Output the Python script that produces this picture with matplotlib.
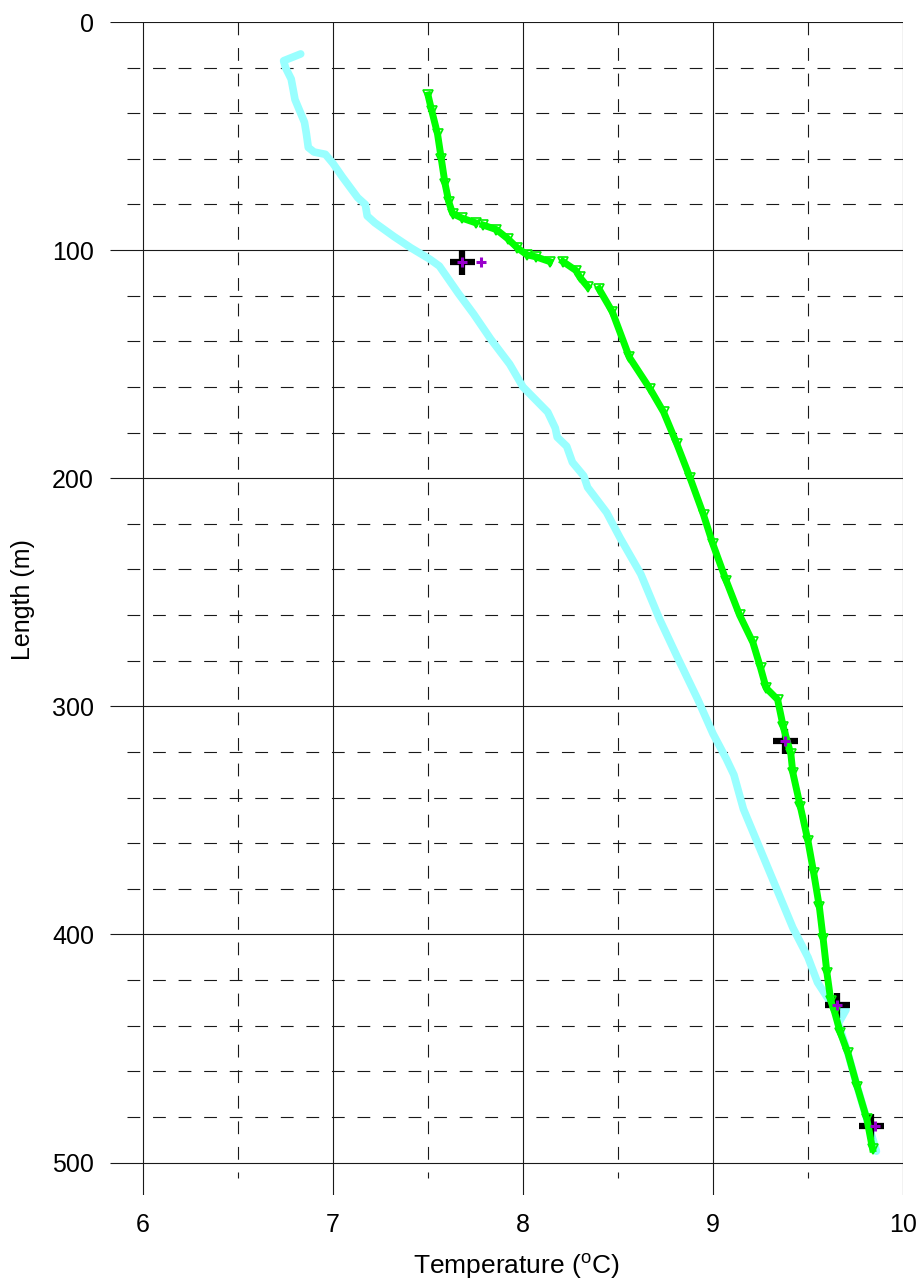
import numpy as np
import matplotlib
matplotlib.use("Agg")
import matplotlib.pyplot as plt

plt.rcParams["font.family"] = ["Liberation Sans", "DejaVu Sans"]
plt.rcParams["mathtext.fontset"] = "custom"
plt.rcParams["mathtext.rm"] = "Liberation Sans"

## Profile 1 (cyan) : temperature (degC) vs length (m)
t_cyan = [6.83, 6.74, 6.75, 6.78, 6.80, 6.83, 6.85, 6.86, 6.87, 6.90, 6.96, 7.00,
          7.05, 7.13, 7.17, 7.18, 7.22, 7.32, 7.41, 7.51, 7.56, 7.66, 7.74, 7.83,
          7.93, 8.00, 8.13, 8.17, 8.18, 8.23, 8.26, 8.32, 8.34, 8.44, 8.51, 8.62,
          8.72, 8.81, 8.92, 9.00, 9.07, 9.11, 9.16, 9.25, 9.34, 9.42, 9.50, 9.55,
          9.62, 9.70, 9.66, 9.71, 9.76, 9.81, 9.86]
l_cyan = [14, 17, 20, 25, 34, 40, 44, 49, 55, 57, 58, 62,
          68, 77, 80, 85, 88, 94, 99, 104, 107, 119, 128, 139,
          150, 160, 171, 178, 182, 186, 193, 199, 204, 215, 226, 242,
          262, 278, 297, 312, 323, 330, 345, 363, 381, 397, 410, 421,
          430, 433, 439, 452, 467, 481, 495]

## Profile 2 (green) : gaps in the record are kept as NaN
t_green = [7.50, 7.52, 7.55, 7.57, 7.59, 7.61, 7.63, 7.68, 7.75, np.nan,
           7.79, 7.86, 7.92, 7.97, 8.02, 8.07, 8.14, np.nan,
           8.21, 8.28, 8.30, 8.34, np.nan,
           8.40, 8.47, 8.56, 8.67, 8.74, 8.81, 8.88, 8.95, 9.00, 9.07, 9.14,
           9.21, 9.25, 9.28, 9.34, 9.37, 9.41, 9.42, 9.46, 9.50, 9.53, 9.56,
           9.58, 9.60, 9.62, 9.64, 9.67, 9.71, 9.76, 9.81, 9.84]
l_green = [32, 39, 49, 60, 71, 79, 84, 86, 88, np.nan,
           89, 91, 95, 99, 102, 103, 105, np.nan,
           105, 109, 112, 116, np.nan,
           117, 127, 147, 161, 171, 185, 200, 216, 229, 245, 260,
           272, 283, 292, 297, 309, 321, 329, 344, 359, 373, 388,
           402, 417, 429, 434, 443, 452, 467, 481, 494]

## Reference measurements
t_ref = [7.68, 9.38, 9.65, 9.83]
l_ref = [105, 315, 431, 484]
t_pt  = [7.68, 7.78, 9.38, 9.65, 9.85]
l_pt  = [105, 105, 315, 431, 484]

xmajor = [6, 7, 8, 9, 10]
xminor = [6.5, 7.5, 8.5, 9.5]
ymajor = [0, 100, 200, 300, 400, 500]
yminor = [20, 40, 60, 80, 120, 140, 160, 180, 220, 240, 260, 280,
          320, 340, 360, 380, 420, 440, 460, 480]

xlo, xhi = 5.8263, 10.0
ylo, yhi = 514.2, 0.0

fig = plt.figure(figsize=(9.23, 12.8), dpi=100)
ax = fig.add_axes([110/923, 1 - 1195/1280, 793/923, 1173/1280])
ax.set_xlim(xlo, xhi)
ax.set_ylim(ylo, yhi)
for s in ax.spines.values():
	s.set_visible(False)

## Grid drawn by hand: lines overshoot the plot like tick marks
dash = (0, (11.5, 11.5))
gc = "#1a1a1a"
ax.vlines(xmajor, 0, ylo, color=gc, lw=0.8, zorder=1)
ax.vlines(xminor, 0, 506.7, color=gc, lw=0.8, linestyles=[dash], zorder=1)
ax.hlines(ymajor, xlo, 10, color=gc, lw=0.8, zorder=1)
ax.hlines(yminor, 5.918, 10, color=gc, lw=0.8, linestyles=[dash], zorder=1)

ax.plot(t_cyan, l_cyan, color="#99ffff", lw=5.5, solid_capstyle="round",
        solid_joinstyle="round", zorder=2)
ax.plot(t_ref, l_ref, linestyle="none", marker="+", ms=18, mew=4.5,
        color="black", zorder=3)
# triangles under the line so only their corners show
ax.plot(t_green, l_green, linestyle="none", marker="v", ms=6.5,
        mfc="none", mec="#00ee00", mew=1.2, zorder=3.5)
ax.plot(t_green, l_green, color="#00ff00", lw=5.0, solid_joinstyle="round",
        zorder=4)
ax.plot(t_pt, l_pt, linestyle="none", marker="+", ms=7, mew=2.2,
        color="#9900cc", zorder=5)

ax.set_xticks(xmajor)
ax.set_yticks(ymajor)
ax.tick_params(axis="both", length=0, labelsize=18)
ax.tick_params(axis="x", pad=13)
ax.tick_params(axis="y", pad=11.5)
ax.set_xlabel(r"Temperature ($^{\mathrm{o}}$C)", fontsize=19, labelpad=10, x=0.513)
ax.set_ylabel("Length (m)", fontsize=18, labelpad=12, y=0.508)

fig.savefig("out.png", dpi=100)
